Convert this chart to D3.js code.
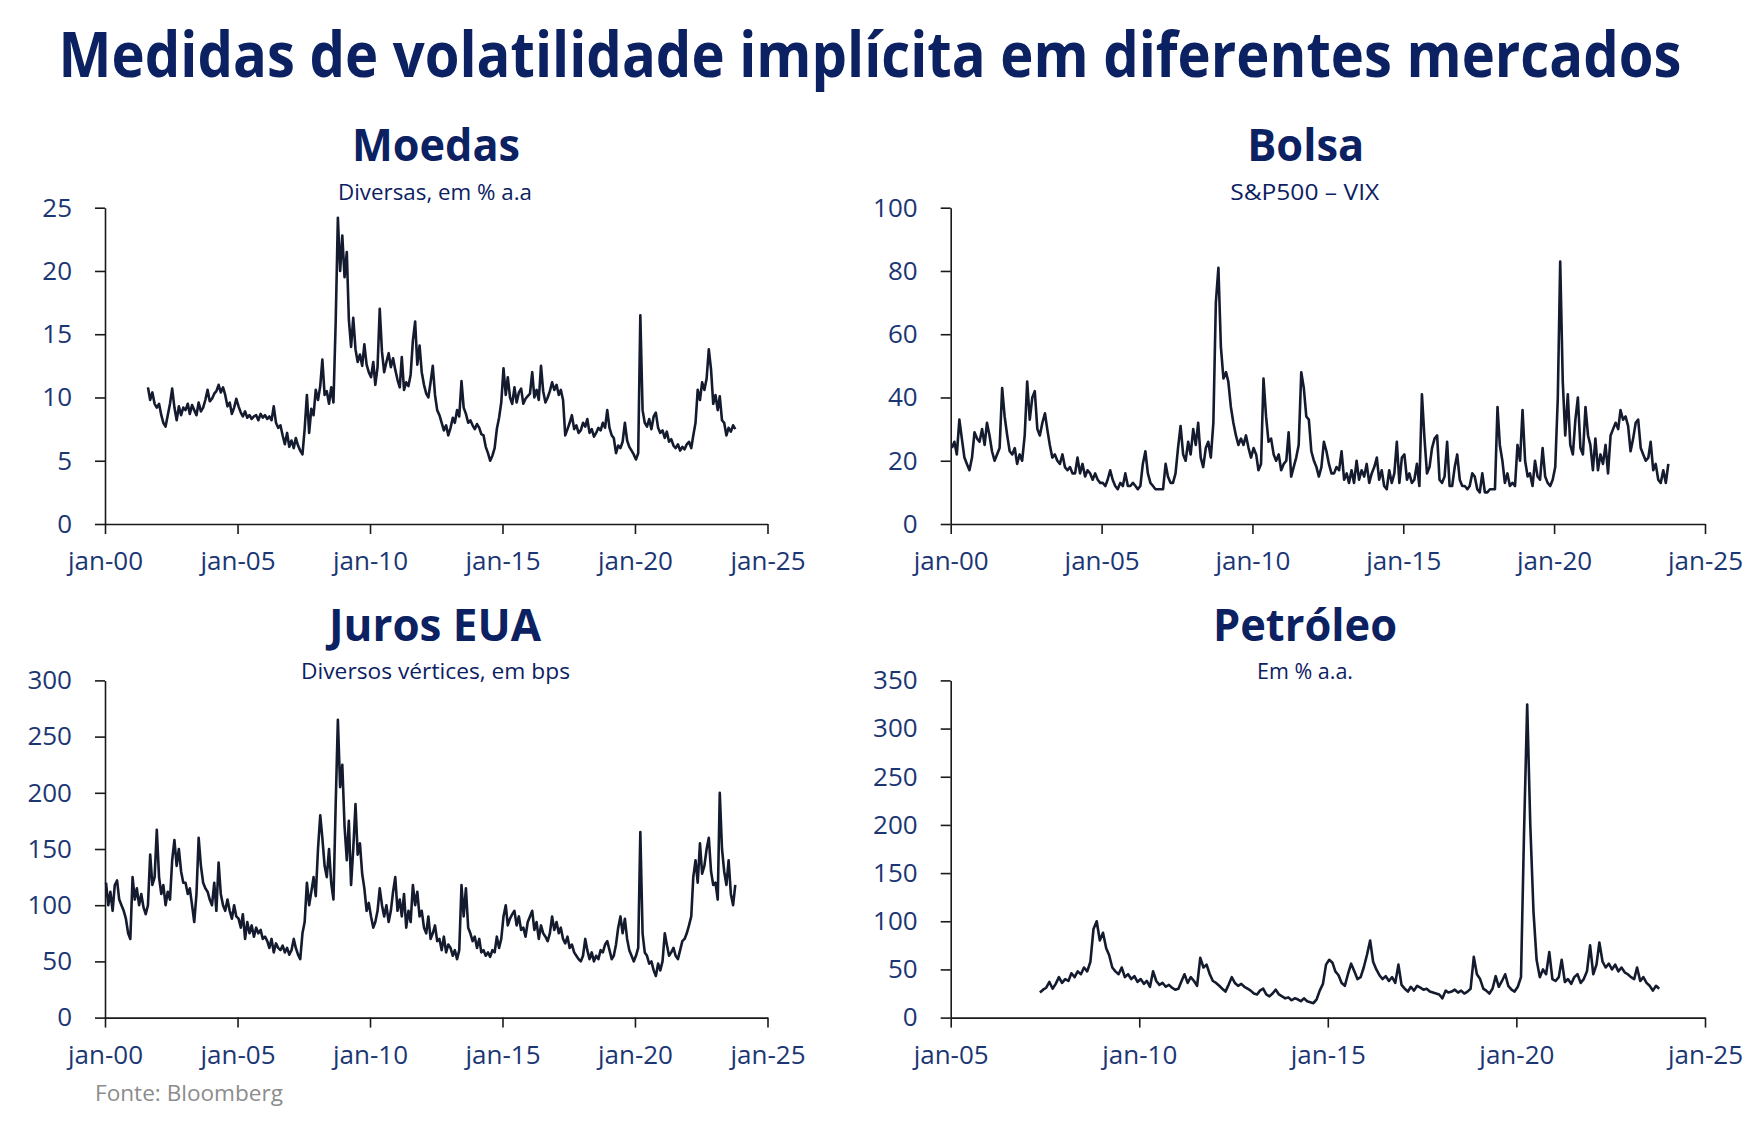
<!DOCTYPE html>
<html>
<head>
<meta charset="utf-8">
<script src="https://cdn.jsdelivr.net/npm/d3@7"></script>
<style>
  html, body { margin: 0; padding: 0; background: #ffffff; }
  svg { display: block; }
</style>
</head>
<body>
<svg id="chart" width="1764" height="1125"></svg>
<script>
// ---------------- DATA ----------------
const chartTitle = "Medidas de volatilidade implícita em diferentes mercados";
const panelTitles = ["Moedas", "Bolsa", "Juros EUA", "Petróleo"];
const panelSubtitles = ["Diversas, em % a.a", "S&P500 – VIX", "Diversos vértices, em bps", "Em % a.a."];
const sourceNote = "Fonte: Bloomberg";

const yTicksMoedas = [0, 5, 10, 15, 20, 25];
const yTicksBolsa = [0, 20, 40, 60, 80, 100];
const yTicksJuros = [0, 50, 100, 150, 200, 250, 300];
const yTicksPetroleo = [0, 50, 100, 150, 200, 250, 300, 350];

const xTickYearsA = [2000, 2005, 2010, 2015, 2020, 2025];
const xTickLabelsA = ["jan-00", "jan-05", "jan-10", "jan-15", "jan-20", "jan-25"];
const xTickYearsB = [2005, 2010, 2015, 2020, 2025];
const xTickLabelsB = ["jan-05", "jan-10", "jan-15", "jan-20", "jan-25"];

// monthly observations (start year, start month index 0=jan)
const moedasStart = [2001, 7];
const moedasValues = [
  10.8, 9.8, 10.4, 9.5, 9.2,
  9.5, 8.6, 8.0, 7.7, 8.6, 9.5, 10.7, 9.2, 8.2, 9.3, 8.6, 9.2,
  9.0, 9.5, 8.7, 9.4, 9.0, 8.6, 9.6, 8.9, 9.2, 9.8, 10.6, 9.7,
  9.9, 10.3, 10.5, 11.0, 10.4, 10.8, 10.2, 9.3, 9.6, 8.7, 9.2, 9.9,
  9.3, 8.8, 8.5, 8.9, 8.4, 8.6, 8.3, 8.5, 8.6, 8.2, 8.7, 8.4,
  8.6, 8.3, 8.5, 8.2, 9.3, 8.0, 7.6, 7.8, 7.0, 6.3, 7.2, 6.1,
  6.6, 6.0, 6.8, 6.2, 5.8, 5.5, 7.5, 10.2, 7.2, 9.1, 8.6, 10.6,
  9.8, 10.9, 13.0, 10.2, 10.5, 9.5, 10.8, 9.6, 16.0, 24.2, 20.0, 22.8,
  19.5, 21.5, 16.2, 14.0, 16.3, 13.8, 12.8, 13.4, 12.5, 14.2, 12.6, 12.0,
  11.6, 12.8, 11.0, 12.4, 17.0, 13.6, 12.0, 12.8, 13.5, 12.4, 13.1, 12.2,
  11.4, 10.8, 13.2, 10.6, 11.2, 10.9, 11.8, 14.5, 16.0, 12.6, 14.1, 12.0,
  11.0, 10.3, 10.0, 11.2, 12.5, 10.2, 9.0, 8.6, 8.0, 7.4, 7.8, 7.0,
  7.6, 8.4, 8.0, 9.0, 8.5, 11.3, 9.2, 8.7, 8.0, 8.2, 7.8, 7.5,
  7.9, 7.6, 7.1, 7.0, 6.1, 5.6, 5.0, 5.4, 6.0, 7.5, 8.4, 9.6,
  12.3, 10.2, 11.6, 10.0, 9.5, 10.8, 9.6, 10.4, 10.7, 9.5, 9.9, 10.1,
  10.3, 12.0, 10.0, 10.6, 9.8, 12.5, 10.5, 9.6, 10.0, 10.5, 11.2, 10.6,
  11.0, 10.2, 10.6, 9.8, 7.0, 7.5, 8.0, 8.6, 7.5, 7.8, 7.2, 7.4,
  8.0, 7.7, 8.3, 7.2, 7.5, 6.9, 7.2, 7.6, 7.4, 8.0, 7.6, 9.0,
  7.6, 7.0, 6.8, 5.6, 6.2, 6.0, 6.5, 8.0, 6.6, 6.1, 5.8, 5.5,
  5.1, 5.6, 16.5, 9.0, 8.0, 7.7, 8.3, 7.5, 8.5, 8.8, 7.6, 7.2,
  7.4, 6.8, 7.3, 6.5, 6.7, 6.2, 6.0, 6.3, 5.8, 6.1, 5.9, 6.3,
  6.5, 6.0, 7.0, 8.0, 10.6, 9.8, 11.2, 10.6, 11.5, 13.8, 12.2, 9.5,
  10.2, 9.0, 10.1, 8.2, 8.0, 7.0, 7.6, 7.3, 7.8, 7.5
];

const bolsaStart = [2000, 0];
const bolsaValues = [
  24, 26, 22, 33, 27, 21, 19, 17, 21, 29, 27, 26,
  30, 25, 32, 28, 23, 20, 22, 24, 43, 34, 28, 23,
  22, 24, 19, 22, 20, 28, 45, 33, 40, 42, 30, 28,
  32, 35, 30, 25, 21, 22, 20, 19, 22, 18, 17, 18,
  16, 16, 21, 16, 19, 15, 17, 16, 14, 16, 14, 13,
  13, 12, 14, 17, 14, 12, 11, 13, 12, 16, 12, 12,
  13, 12, 11, 12, 19, 23, 16, 13, 12, 11, 11, 11,
  11, 19, 15, 13, 13, 16, 24, 31, 22, 20, 26, 22,
  30, 25, 32, 21, 18, 24, 26, 21, 32, 70, 81, 56,
  46, 48, 45, 37, 32, 28, 25, 27, 25, 28, 24, 21,
  24, 22, 17, 19, 46, 34, 26, 27, 22, 20, 22, 17,
  19, 20, 29, 15, 18, 21, 25, 48, 43, 34, 33, 23,
  20, 18, 15, 18, 26, 23, 19, 16, 16, 18, 17, 23,
  14, 16, 13, 17, 13, 20, 14, 17, 15, 19, 13, 16,
  18, 21, 14, 17, 12, 11, 17, 13, 16, 26, 13, 21,
  22, 14, 16, 13, 14, 19, 12, 41, 27, 16, 18, 24,
  27, 28, 14, 13, 15, 26, 12, 12, 18, 22, 14, 12,
  12, 11, 12, 16, 15, 11, 10, 16, 10, 10, 11, 11,
  11, 37, 25, 20, 13, 16, 12, 13, 12, 25, 20, 36,
  20, 15, 16, 12, 20, 15, 14, 24, 15, 13, 12, 14,
  18, 40, 83, 45, 28, 41, 25, 22, 33, 40, 24, 22,
  37, 28, 25, 17, 27, 17, 22, 19, 25, 16, 28, 30,
  32, 30, 36, 33, 34, 31, 23, 27, 32, 33, 24, 22,
  20, 21, 26, 17, 19, 14, 13, 17, 13, 19
];

const jurosStart = [2000, 0];
const jurosValues = [
  120, 100, 112, 95, 118, 122, 105, 100, 95, 88, 75, 70,
  125, 105, 115, 100, 110, 98, 92, 100, 145, 118, 125, 167,
  125, 110, 118, 100, 112, 105, 140, 158, 135, 150, 130, 120,
  120, 110, 115, 100, 85, 110, 160, 135, 120, 115, 112, 105,
  100, 120, 95, 138, 110, 100, 95, 105, 95, 88, 100, 90,
  88, 80, 92, 70, 85, 75, 82, 72, 80, 75, 78, 70,
  72, 68, 62, 70, 58, 66, 62, 60, 64, 58, 62, 56,
  60, 70, 62, 56, 52, 75, 85, 120, 100, 112, 125, 108,
  150, 180, 160, 135, 125, 150, 120, 105, 190, 265, 205, 225,
  170, 140, 175, 118, 150, 190, 145, 155, 128, 115, 95, 102,
  90, 80, 85, 95, 115, 100, 90, 100, 85, 95, 112, 125,
  95, 105, 90, 110, 80, 95, 85, 118, 100, 112, 90, 95,
  80, 75, 90, 70, 75, 82, 68, 70, 60, 72, 58, 65,
  62, 55, 60, 52, 60, 118, 90, 115, 80, 75, 68, 72,
  62, 70, 58, 60, 55, 58, 54, 60, 58, 72, 62, 70,
  90, 100, 82, 88, 92, 95, 82, 90, 78, 80, 72, 85,
  90, 95, 78, 85, 70, 82, 75, 72, 68, 75, 90, 78,
  85, 75, 80, 70, 66, 72, 62, 65, 58, 55, 52, 50,
  55, 70, 60, 52, 58, 50, 55, 52, 60, 58, 65, 68,
  60, 52, 55, 65, 80, 90, 75, 88, 70, 60, 55, 50,
  55, 62, 165, 75, 58, 55, 48, 50, 42, 37, 48, 42,
  50, 75, 65, 55, 58, 62, 55, 52, 60, 68, 70, 75,
  82, 90, 125, 140, 120, 155, 128, 135, 150, 160, 130, 118,
  120, 105, 200, 150, 130, 118, 140, 110, 100, 118
];

const petroleoStart = [2007, 4];
const petroleoValues = [
  26, 29, 31, 37, 30, 35, 42, 36,
  40, 38, 46, 42, 48, 45, 52, 48, 58, 92, 100, 80,
  88, 72, 65, 52, 48, 45, 52, 42, 45, 40, 43, 37,
  40, 35, 38, 32, 48, 38, 34, 36, 32, 34, 31, 29,
  30, 38, 45, 36, 42, 38, 33, 62, 52, 55, 45, 38,
  36, 33, 30, 27, 34, 42, 36, 33, 35, 32, 30, 28,
  25, 24, 28, 30, 24, 22, 25, 29, 24, 22, 20, 21,
  18, 20, 19, 17, 20, 17, 16, 15, 19, 28, 35, 55,
  60, 57, 48, 44, 36, 33, 45, 56, 48, 40, 42, 52,
  65, 80, 58, 50, 44, 40, 43, 38, 42, 36, 55, 34,
  30, 27, 32, 28, 33, 31, 29, 30, 27, 26, 25, 24,
  20, 28, 26, 27, 29, 26, 28, 25, 27, 30, 63, 45,
  40, 30, 28, 25, 30, 43, 32, 38, 45, 33, 29, 27,
  32, 42, 190, 325, 200, 110, 60, 42, 50, 45, 68, 40,
  38, 42, 60, 37, 40, 35, 42, 45, 36, 40, 48, 75,
  45, 55, 78, 58, 52, 56, 50, 55, 48, 52, 47, 45,
  42, 40, 52, 38, 42, 36, 33, 28, 33, 30
];

// ---------------- LAYOUT ----------------
const panels = [
  { title: panelTitles[0], subtitle: panelSubtitles[0], start: moedasStart, values: moedasValues,
    yTicks: yTicksMoedas, xYears: xTickYearsA, xLabels: xTickLabelsA,
    left: 105, right: 767.5, top: 207.7, bottom: 524,
    cx: 436, titleY: 161, titleW: 168, subCx: 435, subY: 200, subW: 194 },
  { title: panelTitles[1], subtitle: panelSubtitles[1], start: bolsaStart, values: bolsaValues,
    yTicks: yTicksBolsa, xYears: xTickYearsA, xLabels: xTickLabelsA,
    left: 950.7, right: 1705, top: 207.7, bottom: 524,
    cx: 1305.7, titleY: 161, titleW: 117, subCx: 1304.7, subY: 200, subW: 149 },
  { title: panelTitles[2], subtitle: panelSubtitles[2], start: jurosStart, values: jurosValues,
    yTicks: yTicksJuros, xYears: xTickYearsA, xLabels: xTickLabelsA,
    left: 105, right: 767.5, top: 680.4, bottom: 1017.6,
    cx: 435, titleY: 641, titleW: 212, subCx: 435.5, subY: 679, subW: 269 },
  { title: panelTitles[3], subtitle: panelSubtitles[3], start: petroleoStart, values: petroleoValues,
    yTicks: yTicksPetroleo, xYears: xTickYearsB, xLabels: xTickLabelsB,
    left: 950.7, right: 1705, top: 680.4, bottom: 1017.6,
    cx: 1305, titleY: 641, titleW: 184, subCx: 1305, subY: 679, subW: 96 }
];

const TITLE_COLOR = "#0b2162";
const TICK_COLOR = "#1b3673";
const AXIS_COLOR = "#1a1a1a";
const LINE_COLOR = "#141b2e";
const FONT = "'Open Sans', 'Noto Sans', sans-serif";

const svg = d3.select("#chart");
svg.append("rect").attr("width", 1764).attr("height", 1125).attr("fill", "#ffffff");

// Main title: pick a font size whose natural width matches the target, then stretch vertically
const TITLE_W = 1623, TITLE_FS = 62;
const titleG = svg.append("g");
const titleText = titleG.append("text")
  .attr("x", 0).attr("y", 0)
  .attr("text-anchor", "middle")
  .attr("font-family", FONT).attr("font-weight", 700).attr("font-size", TITLE_FS)
  .attr("fill", TITLE_COLOR)
  .text(chartTitle);
const naturalW = titleText.node().getComputedTextLength();
const fitFs = TITLE_FS * Math.min(1, TITLE_W / naturalW);
titleText.attr("font-size", fitFs);
titleG.attr("transform", `translate(870,77) scale(1, ${TITLE_FS / fitFs})`);

panels.forEach(p => {
  const data = p.values.map((v, i) => ({ date: new Date(p.start[0], p.start[1] + i, 15), value: v }));
  const x = d3.scaleTime()
    .domain([new Date(p.xYears[0], 0, 1), new Date(p.xYears[p.xYears.length - 1], 0, 1)])
    .range([p.left, p.right]);
  const y = d3.scaleLinear()
    .domain([0, p.yTicks[p.yTicks.length - 1]])
    .range([p.bottom, p.top]);

  const g = svg.append("g");

  // titles
  g.append("text")
    .attr("x", p.cx).attr("y", p.titleY).attr("text-anchor", "middle")
    .attr("font-family", FONT).attr("font-weight", 700).attr("font-size", 44)
    .attr("fill", TITLE_COLOR)
    .attr("textLength", p.titleW).attr("lengthAdjust", "spacingAndGlyphs")
    .text(p.title);
  g.append("text")
    .attr("x", p.subCx).attr("y", p.subY).attr("text-anchor", "middle")
    .attr("font-family", FONT).attr("font-weight", 400).attr("font-size", 21)
    .attr("fill", TITLE_COLOR)
    .attr("textLength", p.subW).attr("lengthAdjust", "spacingAndGlyphs")
    .text(p.subtitle);

  // y axis
  const yAxis = d3.axisLeft(y).tickValues(p.yTicks).tickFormat(d3.format("d"))
    .tickSize(10).tickSizeOuter(0).tickPadding(23);
  const gy = g.append("g").attr("transform", `translate(${p.left},0)`).call(yAxis);

  // x axis
  const xAxis = d3.axisBottom(x)
    .tickValues(p.xYears.map(yr => new Date(yr, 0, 1)))
    .tickFormat((d, i) => p.xLabels[i])
    .tickSize(10).tickSizeOuter(0);
  const gx = g.append("g").attr("transform", `translate(0,${p.bottom})`).call(xAxis);
  gx.selectAll(".tick text").attr("y", 46).attr("dy", 0);

  [gy, gx].forEach(ax => {
    ax.attr("font-family", FONT).attr("font-size", 26);
    ax.selectAll("path.domain").attr("stroke", AXIS_COLOR).attr("stroke-width", 1.6);
    ax.selectAll(".tick line").attr("stroke", AXIS_COLOR).attr("stroke-width", 1.6);
    ax.selectAll(".tick text").attr("fill", TICK_COLOR);
  });

  // series line
  const line = d3.line().x(d => x(d.date)).y(d => y(d.value));
  g.append("path")
    .datum(data)
    .attr("d", line)
    .attr("fill", "none")
    .attr("stroke", LINE_COLOR)
    .attr("stroke-width", 2.6)
    .attr("stroke-linejoin", "round");
});

svg.append("text")
  .attr("x", 95).attr("y", 1101)
  .attr("font-family", FONT).attr("font-size", 22)
  .attr("fill", "#8c8c8c")
  .attr("textLength", 188).attr("lengthAdjust", "spacingAndGlyphs")
  .text(sourceNote);
</script>
</body>
</html>
